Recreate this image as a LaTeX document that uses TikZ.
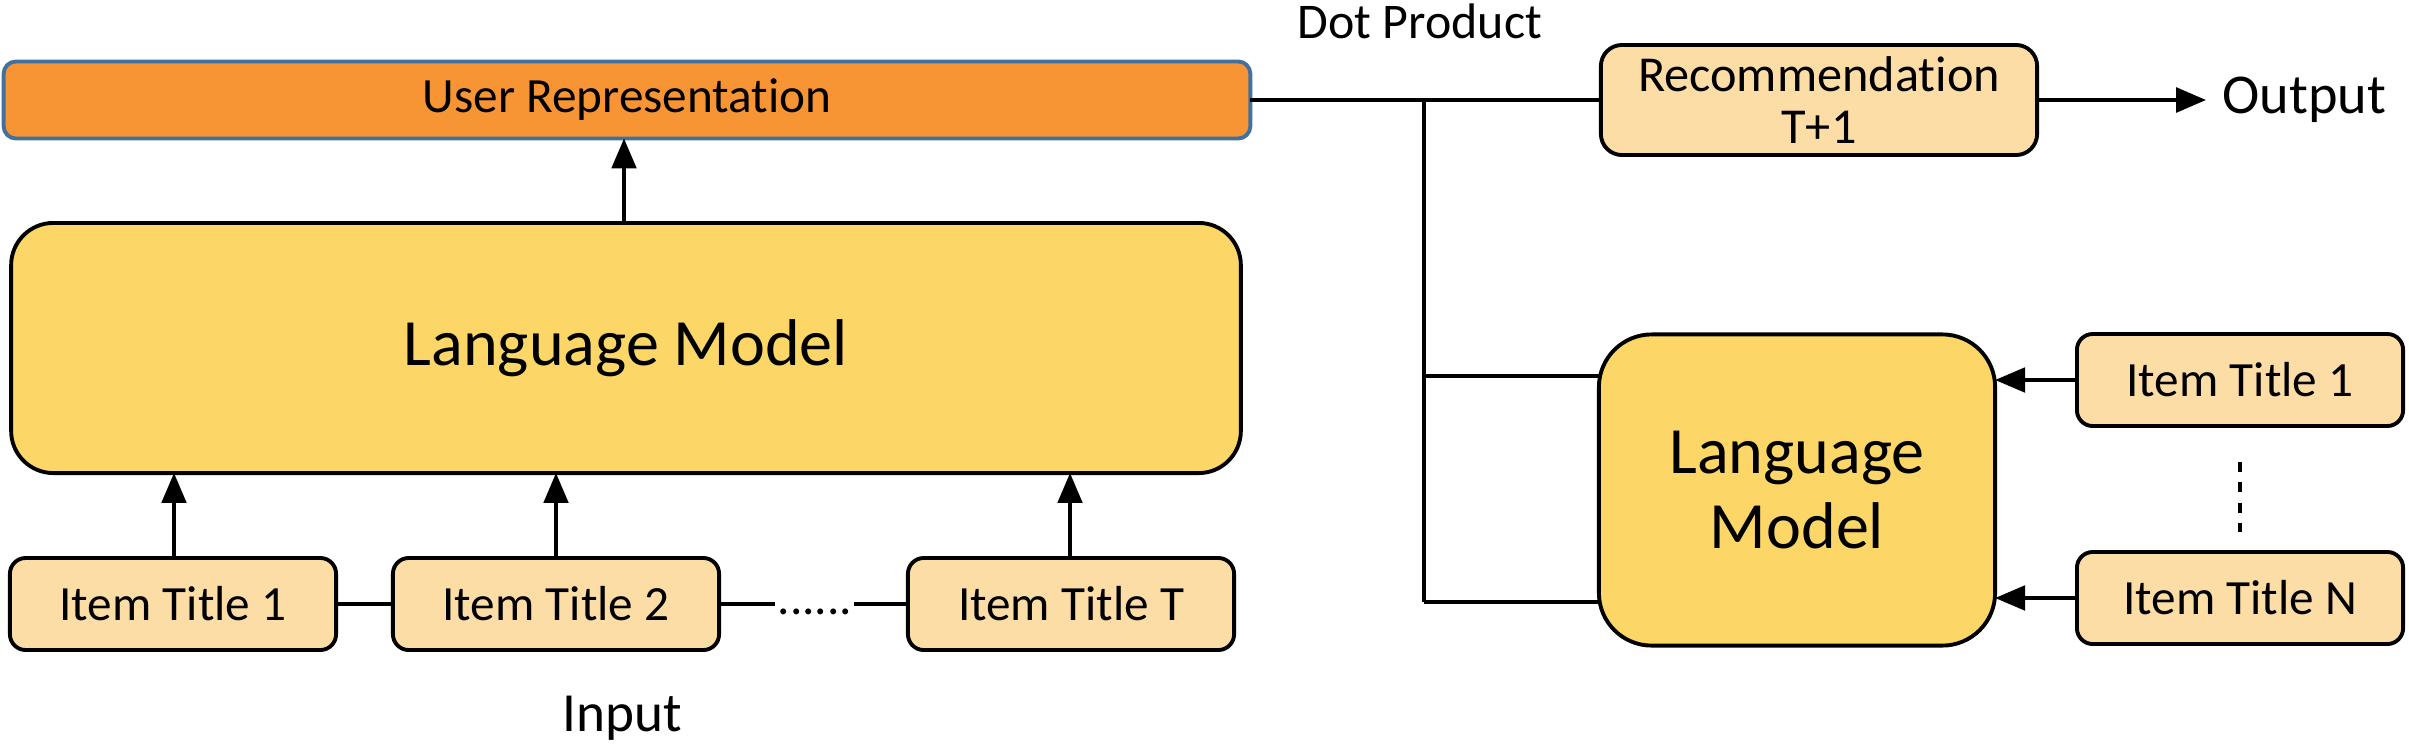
\documentclass[tikz,border=0pt]{standalone}
\usepackage{fontspec}
\setmainfont{Carlito}[Ligatures=NoCommon]
\usetikzlibrary{arrows.meta}
\definecolor{userfill}{HTML}{F79433}
\definecolor{userdraw}{HTML}{41719C}
\definecolor{lmfill}{HTML}{FCD767}
\definecolor{itemfill}{HTML}{FDDDA6}
\tikzset{
  box/.style={draw=black, line width=1.1pt, inner sep=0pt, outer sep=0pt, align=center},
  itembox/.style={box, fill=itemfill, rounded corners=4.5pt, minimum width=3.26cm, minimum height=0.92cm, font=\fontsize{14}{16}\selectfont},
  lmbox/.style={box, fill=lmfill, font=\fontsize{18.8}{21.5}\selectfont},
  conn/.style={line width=1.1pt},
  arr/.style={line width=0.9pt, -{Triangle[length=8.5pt,width=7pt]}},
}
\begin{document}
\begin{tikzpicture}[x=0.01cm,y=-0.01cm]
\useasboundingbox (0,0) rectangle (2409,748);
% left part
\node[box, draw=userdraw, fill=userfill, rounded corners=3.5pt, minimum width=12.46cm, minimum height=0.77cm, font=\fontsize{14}{16}\selectfont] (user) at (627,100) {User Representation};
\node[lmbox, rounded corners=12pt, minimum width=12.29cm, minimum height=2.50cm] (lm1) at (626,348) {Language Model};
\node[itembox] (i1) at (173,604) {Item Title 1};
\node[itembox] (i2) at (556,604) {Item Title 2};
\node[itembox] (iT) at (1071,604) {Item Title T};
\node[font=\fontsize{14}{16}\selectfont] (idots) at (815,612) {......};
\node[font=\fontsize{15.7}{18}\selectfont] (input) at (622,718) {Input};
\coordinate (dl) at (775,604);
\coordinate (dr) at (854,604);
\draw[conn] (i1.east) -- (i2.west);
\draw[conn] (i2.east) -- (dl);
\draw[conn] (dr) -- (iT.west);
\draw[arr] (i1.north -| 174,0) -- (lm1.south -| 174,0);
\draw[arr] (i2.north) -- (i2.north |- lm1.south);
\draw[arr] (iT.north -| 1070,0) -- (lm1.south -| 1070,0);
\draw[arr] (lm1.north -| 624,0) -- (user.south -| 624,0);
% right part
\node[box, fill=itemfill, rounded corners=6pt, minimum width=4.36cm, minimum height=1.10cm, font=\fontsize{14.3}{15}\selectfont] (rec) at (1819,100) {Recommendation\\T+1};
\node[font=\fontsize{14.2}{16}\selectfont] (dot) at (1420,21) {Dot Product};
\node[anchor=west, font=\fontsize{16}{18}\selectfont, inner sep=0pt] (out) at (2222,100) {Output};
\node[lmbox, rounded corners=15pt, minimum width=3.96cm, minimum height=3.11cm] (lm2) at (1797,490) {Language\\Model};
\node[itembox] (r1) at (2240,380) {Item Title 1};
\node[itembox] (rN) at (2240,598) {Item Title N};
\coordinate (j0) at (1424,100);
\coordinate (j1) at (1424,376);
\coordinate (j2) at (1424,602);
\coordinate (oe) at (2206,100);
\coordinate (v1) at (2240,462);
\coordinate (v2) at (2240,532);
\draw[conn] (user.east |- j0) -- (rec.west |- j0);
\draw[conn] (j0) -- (j2);
\draw[conn] (j1) -- (lm2.west |- j1);
\draw[conn] (j2) -- (lm2.west |- j2);
\draw[arr, line width=1.1pt] (rec.east) -- (oe);
\draw[arr] (r1.west) -- (lm2.east |- r1.west);
\draw[arr] (rN.west) -- (lm2.east |- rN.west);
\draw[line width=1pt, dash pattern=on 2.8pt off 3pt] (v1) -- (v2);
\end{tikzpicture}
\end{document}
